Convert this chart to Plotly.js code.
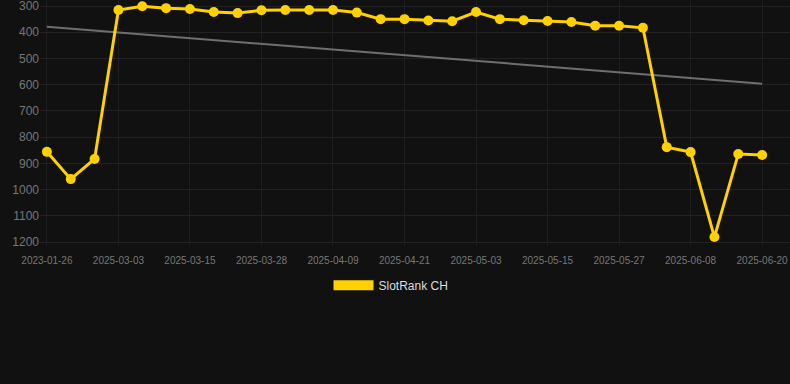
<!DOCTYPE html>
<html>
<head>
<meta charset="utf-8">
<script src="https://cdn.plot.ly/plotly-3.0.1.min.js"></script>
<style>
html,body{margin:0;padding:0;background:#111111;}
#chart{width:790px;height:384px;}
</style>
</head>
<body>
<div id="chart"></div>
<script>
const dates = [
  "2023-01-26","2025-02-23","2025-02-27","2025-03-03","2025-03-07","2025-03-11",
  "2025-03-15","2025-03-19","2025-03-24","2025-03-28","2025-04-01","2025-04-05",
  "2025-04-09","2025-04-13","2025-04-17","2025-04-21","2025-04-25","2025-04-29",
  "2025-05-03","2025-05-07","2025-05-11","2025-05-15","2025-05-19","2025-05-23",
  "2025-05-27","2025-05-31","2025-06-04","2025-06-08","2025-06-12","2025-06-16",
  "2025-06-20"
];
const ranks = [
  856, 960, 883, 315, 301, 308, 311, 323, 327, 316, 315, 315,
  315, 325, 350, 350, 355, 358, 323, 350, 354, 357, 361, 375,
  375, 383, 838, 857, 1181, 864, 868
];
const trendY = [379, 596];
const tickDates = dates.filter((d, i) => i % 3 === 0);
const yTicks = [300, 400, 500, 600, 700, 800, 900, 1000, 1100, 1200];
const seriesName = "SlotRank CH";

const yellow = "#FFD100";

const traces = [
  {
    x: [dates[0], dates[dates.length - 1]],
    y: trendY,
    type: "scatter",
    mode: "lines",
    line: {color: "#6f6f6f", width: 2},
    showlegend: false,
    hoverinfo: "skip"
  },
  {
    x: dates,
    y: ranks,
    type: "scatter",
    mode: "lines+markers",
    line: {color: yellow, width: 3},
    marker: {color: yellow, size: 10},
    showlegend: false,
    cliponaxis: false
  },
  {
    x: [null],
    y: [null],
    type: "scatter",
    mode: "lines",
    name: seriesName,
    line: {color: yellow, width: 10}
  }
];

const layout = {
  width: 790,
  height: 384,
  paper_bgcolor: "#111111",
  plot_bgcolor: "#111111",
  margin: {l: 40, r: 0, t: 0, b: 138},
  font: {family: "Liberation Sans, Arial, sans-serif", color: "#777777"},
  xaxis: {
    type: "category",
    categoryorder: "array",
    categoryarray: dates,
    range: [-0.29, 31.17],
    tickmode: "array",
    tickvals: tickDates,
    ticktext: tickDates,
    tickfont: {size: 10, color: "#777777"},
    showgrid: true,
    gridcolor: "#1f1f1f",
    gridwidth: 1,
    zeroline: false,
    showline: false,
    ticks: "outside",
    ticklen: 5,
    tickcolor: "rgba(0,0,0,0)",
    tickangle: 0
  },
  yaxis: {
    range: [1215, 277],
    tickmode: "array",
    tickvals: yTicks,
    ticktext: yTicks.map(String),
    tickfont: {size: 12, color: "#777777"},
    ticklabeloverflow: "allow",
    showgrid: true,
    gridcolor: "#222222",
    gridwidth: 1,
    zeroline: false,
    showline: false,
    ticks: ""
  },
  showlegend: true,
  legend: {
    orientation: "h",
    x: 0.468,
    xanchor: "center",
    y: -0.16,
    yanchor: "middle",
    font: {size: 12, color: "#dddddd"},
    bgcolor: "rgba(0,0,0,0)",
    itemwidth: 40
  }
};

Plotly.newPlot("chart", traces, layout, {displayModeBar: false, staticPlot: true});
</script>
</body>
</html>
